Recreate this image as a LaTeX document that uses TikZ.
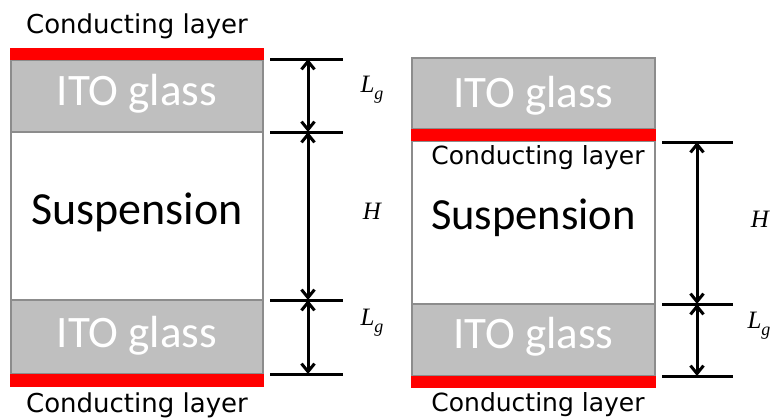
\documentclass[tikz,border=0pt]{standalone}
\usepackage{fontspec}
\newfontfamily\carlitofont{Carlito}
\newfontfamily\dejavufont{DejaVu Sans}
\newfontfamily\serifmath{Liberation Serif}
\usetikzlibrary{arrows.meta}
\definecolor{glassgray}{HTML}{BFBFBF}
\definecolor{edgegray}{HTML}{8C8C8C}
\newcommand{\Lgsym}{L\raisebox{-0.28em}{\fontsize{18}{20}\selectfont g}}
\begin{document}
\begin{tikzpicture}[x=1pt,y=-1pt,
  box/.style={rectangle, inner sep=0pt, outer sep=0pt, draw=edgegray, line width=2pt},
  glass/.style={box, fill=glassgray},
  susp/.style={box, fill=white},
  cond/.style={rectangle, inner sep=0pt, outer sep=0pt, fill=red},
  lbl/.style={inner sep=0pt, font=\dejavufont\fontsize{26}{30}\selectfont},
  glasstext/.style={inner sep=0pt, text=white, font=\carlitofont\fontsize{45}{50}\selectfont},
  susptext/.style={inner sep=0pt, font=\carlitofont\fontsize{46}{50}\selectfont},
  dimtick/.style={line width=3pt},
  dimarrow/.style={line width=3pt, {Straight Barb[length=8pt,width=13pt]}-{Straight Barb[length=8pt,width=13pt]}},
  mathlbl/.style={inner sep=0pt, font=\serifmath\itshape\fontsize{25}{28}\selectfont}]
\useasboundingbox (0,0) rectangle (771,418);
% ---- left stack
\node[glass, minimum width=252pt, minimum height=72pt] (itoTL) at (137,96) {};
\node[susp, minimum width=252pt, minimum height=168pt] (suspL) at (137,216) {};
\node[glass, minimum width=252pt, minimum height=74pt] (itoBL) at (137,337) {};
\node[cond, minimum width=254pt, minimum height=12pt] (redTL) at (137,54) {};
\node[cond, minimum width=254pt, minimum height=13pt] (redBL) at (137,380.5) {};
\node[glasstext] (tTL) at (137,94) {ITO glass};
\node[susptext] (tSL) at (137,212) {Suspension};
\node[glasstext] (tBL) at (137,336) {ITO glass};
\node[lbl] (cTL) at (137,26) {Conducting layer};
\node[lbl] (cBL) at (137,405) {Conducting layer};
% ---- right stack
\node[glass, minimum width=243pt, minimum height=71pt] (itoTR) at (533.5,93.5) {};
\node[susp, minimum width=243pt, minimum height=163pt] (suspR) at (533.5,222.5) {};
\node[glass, minimum width=243pt, minimum height=72pt] (itoBR) at (533.5,340) {};
\node[cond, minimum width=245pt, minimum height=12pt] (redMR) at (533.5,135) {};
\node[cond, minimum width=245pt, minimum height=12pt] (redBR) at (533.5,382) {};
\node[glasstext] (tTR) at (533.5,96) {ITO glass};
\node[susptext, font=\carlitofont\fontsize{44.5}{50}\selectfont] (tSR) at (533.5,218) {Suspension};
\node[glasstext] (tBR) at (533.5,337) {ITO glass};
\node[lbl, font=\dejavufont\fontsize{25}{30}\selectfont] (cMR) at (538,158) {Conducting layer};
\node[lbl, font=\dejavufont\fontsize{25}{30}\selectfont] (cBR) at (538,405) {Conducting layer};
% ---- left dimensions
\coordinate (l1a) at (270,59);  \coordinate (l1b) at (343,59);
\coordinate (l2a) at (270,132); \coordinate (l2b) at (343,132);
\coordinate (l3a) at (270,300); \coordinate (l3b) at (343,300);
\coordinate (l4a) at (270,374); \coordinate (l4b) at (343,374);
\coordinate (la1) at (308,59); \coordinate (la2) at (308,132);
\coordinate (la3) at (308,300); \coordinate (la4) at (308,374);
\draw[dimtick] (l1a) -- (l1b);
\draw[dimtick] (l2a) -- (l2b);
\draw[dimtick] (l3a) -- (l3b);
\draw[dimtick] (l4a) -- (l4b);
\draw[dimarrow] (la1) -- (la2);
\draw[dimarrow] (la2) -- (la3);
\draw[dimarrow] (la3) -- (la4);
\node[mathlbl] (lgL1) at (372,90) {\Lgsym};
\node[mathlbl] (hL) at (372,211) {H};
\node[mathlbl] (lgL2) at (372,323) {\Lgsym};
% ---- right dimensions
\coordinate (r1a) at (662,142); \coordinate (r1b) at (733,142);
\coordinate (r2a) at (662,304); \coordinate (r2b) at (733,304);
\coordinate (r3a) at (662,376); \coordinate (r3b) at (733,376);
\coordinate (ra1) at (697,142); \coordinate (ra2) at (697,304);
\coordinate (ra3) at (697,376);
\draw[dimtick] (r1a) -- (r1b);
\draw[dimtick] (r2a) -- (r2b);
\draw[dimtick] (r3a) -- (r3b);
\draw[dimarrow] (ra1) -- (ra2);
\draw[dimarrow] (ra2) -- (ra3);
\node[mathlbl] (hR) at (760,219) {H};
\node[mathlbl] (lgR) at (759,326) {\Lgsym};
\end{tikzpicture}
\end{document}
